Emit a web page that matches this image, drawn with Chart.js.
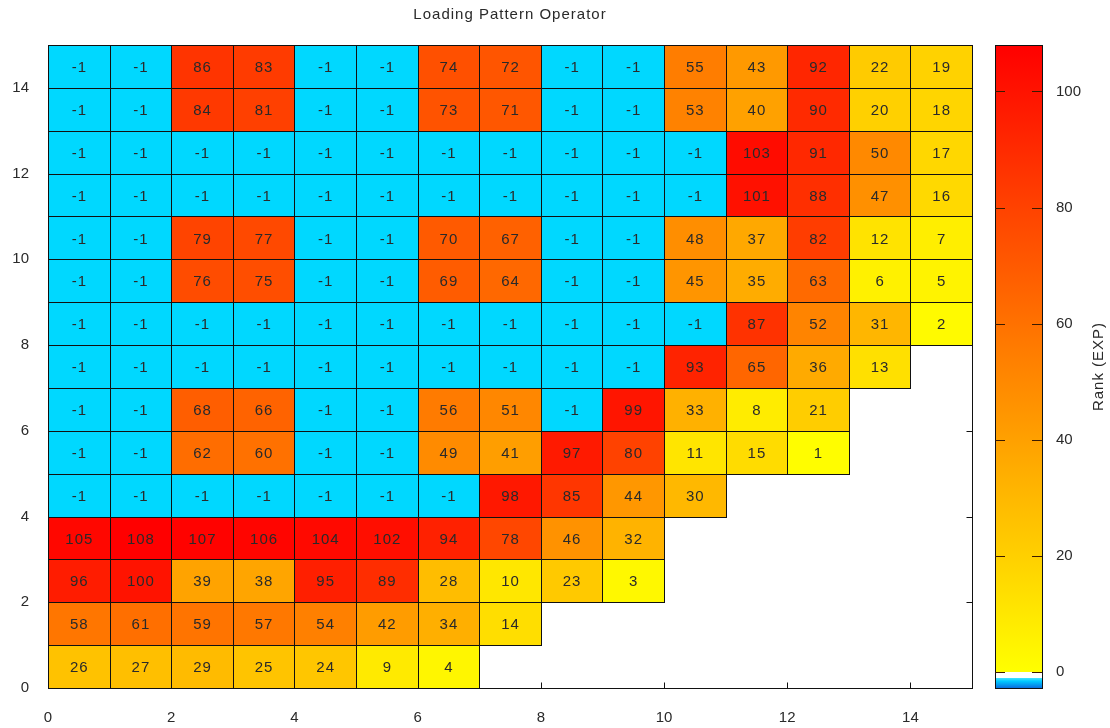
<!DOCTYPE html>
<html>
<head>
<meta charset="utf-8">
<title>Loading Pattern Operator</title>
<script src="https://cdn.jsdelivr.net/npm/chart.js@4/dist/chart.umd.min.js"></script>
<style>
  html, body { margin: 0; padding: 0; background: #ffffff; }
  #wrap { width: 1110px; height: 728px; position: relative; }
</style>
</head>
<body>
<div id="wrap"><canvas id="chart" width="1110" height="728"></canvas></div>
<script>
// ---- text ----
const chartTitle = 'Loading Pattern Operator';
const colorbarTitle = 'Rank (EXP)';

// ---- axis ticks ----
const xTicks = [0, 2, 4, 6, 8, 10, 12, 14];
const yTicks = [0, 2, 4, 6, 8, 10, 12, 14];
const cbTicks = [0, 20, 40, 60, 80, 100];
const cbMin = -2.75;
const cbMax = 108;

// ---- ranks per row, y = 0 (bottom) to y = 14 (top); columns start at x = 0 ----
const row0  = [26, 27, 29, 25, 24, 9, 4];
const row1  = [58, 61, 59, 57, 54, 42, 34, 14];
const row2  = [96, 100, 39, 38, 95, 89, 28, 10, 23, 3];
const row3  = [105, 108, 107, 106, 104, 102, 94, 78, 46, 32];
const row4  = [-1, -1, -1, -1, -1, -1, -1, 98, 85, 44, 30];
const row5  = [-1, -1, 62, 60, -1, -1, 49, 41, 97, 80, 11, 15, 1];
const row6  = [-1, -1, 68, 66, -1, -1, 56, 51, -1, 99, 33, 8, 21];
const row7  = [-1, -1, -1, -1, -1, -1, -1, -1, -1, -1, 93, 65, 36, 13];
const row8  = [-1, -1, -1, -1, -1, -1, -1, -1, -1, -1, -1, 87, 52, 31, 2];
const row9  = [-1, -1, 76, 75, -1, -1, 69, 64, -1, -1, 45, 35, 63, 6, 5];
const row10 = [-1, -1, 79, 77, -1, -1, 70, 67, -1, -1, 48, 37, 82, 12, 7];
const row11 = [-1, -1, -1, -1, -1, -1, -1, -1, -1, -1, -1, 101, 88, 47, 16];
const row12 = [-1, -1, -1, -1, -1, -1, -1, -1, -1, -1, -1, 103, 91, 50, 17];
const row13 = [-1, -1, 84, 81, -1, -1, 73, 71, -1, -1, 53, 40, 90, 20, 18];
const row14 = [-1, -1, 86, 83, -1, -1, 74, 72, -1, -1, 55, 43, 92, 22, 19];

const rows = [row0, row1, row2, row3, row4, row5, row6, row7,
              row8, row9, row10, row11, row12, row13, row14];

// one point per cell, placed at the cell centre
const cells = [];
rows.forEach((row, r) => row.forEach((v, c) => cells.push({ x: c + 0.5, y: r + 0.5, v })));

// ---- styling ----
const FONT = { family: '"Liberation Sans", Arial, sans-serif', size: 15 };
const TEXT_COLOR = '#2a2a2a';
const LINE_COLOR = '#111111';
const EMPTY_COLOR = '#00d8ff';

function rankColor(v) {
  if (v < 0) return EMPTY_COLOR;
  const g = Math.round(255 * (1 - v / cbMax));
  return `rgb(255,${Math.max(0, Math.min(255, g))},0)`;
}

// keep the axes from reserving extra room for half-label overhang
function fixBox(w, h) {
  return s => {
    if (w !== null) s.width = w;
    if (h !== null) s.height = h;
    s.paddingTop = 0; s.paddingBottom = 0; s.paddingLeft = 0; s.paddingRight = 0;
  };
}

const heatmapPlugin = {
  id: 'heatmap',
  beforeDatasetsDraw(chart) {
    const { ctx } = chart;
    const xs = chart.scales.x, ys = chart.scales.y;
    const pts = chart.data.datasets[0].data;
    const box = p => {
      const x0 = Math.round(xs.getPixelForValue(p.x - 0.5));
      const x1 = Math.round(xs.getPixelForValue(p.x + 0.5));
      const y0 = Math.round(ys.getPixelForValue(p.y + 0.5));
      const y1 = Math.round(ys.getPixelForValue(p.y - 0.5));
      return { x0, y0, w: x1 - x0, h: y1 - y0 };
    };
    ctx.save();
    pts.forEach(p => {
      const b = box(p);
      ctx.fillStyle = rankColor(p.v);
      ctx.fillRect(b.x0, b.y0, b.w, b.h);
    });
    ctx.strokeStyle = LINE_COLOR;
    ctx.lineWidth = 1;
    pts.forEach(p => {
      const b = box(p);
      ctx.strokeRect(b.x0 + 0.5, b.y0 + 0.5, b.w, b.h);
    });
    ctx.font = `${FONT.size}px ${FONT.family}`;
    ctx.textAlign = 'center';
    ctx.textBaseline = 'middle';
    ctx.letterSpacing = '1px';
    ctx.fillStyle = TEXT_COLOR;
    pts.forEach(p => {
      ctx.fillText(String(p.v), xs.getPixelForValue(p.x) + 0.5, ys.getPixelForValue(p.y) + 1.5);
    });
    ctx.restore();
  },
  afterDraw(chart) {
    const { ctx, chartArea: a } = chart;
    const xs = chart.scales.x, ys = chart.scales.y, cb = chart.scales.cb;
    ctx.save();
    ctx.strokeStyle = LINE_COLOR;
    ctx.lineWidth = 1;

    // plot border
    const L = Math.round(a.left) + 0.5, R = Math.round(a.right) + 0.5;
    const T = Math.round(a.top) + 0.5, B = Math.round(a.bottom) + 0.5;
    ctx.strokeRect(L, T, R - L, B - T);

    // inward tick marks on all four sides
    const tl = 6;
    ctx.beginPath();
    xTicks.forEach(v => {
      const px = Math.round(xs.getPixelForValue(v)) + 0.5;
      ctx.moveTo(px, B); ctx.lineTo(px, B - tl);
      ctx.moveTo(px, T); ctx.lineTo(px, T + tl);
    });
    yTicks.forEach(v => {
      const py = Math.round(ys.getPixelForValue(v)) + 0.5;
      ctx.moveTo(L, py); ctx.lineTo(L + tl, py);
      ctx.moveTo(R, py); ctx.lineTo(R - tl, py);
    });
    ctx.stroke();

    // colour bar
    const cbL = Math.round(a.right) + 23, cbW = 47;
    const cTop = Math.round(cb.getPixelForValue(cbMax));
    const cBot = Math.round(cb.getPixelForValue(cbMin));
    const grad = ctx.createLinearGradient(0, cBot, 0, cTop);
    const stop = v => (cb.getPixelForValue(v) - cBot) / (cTop - cBot);
    grad.addColorStop(0, '#0a6fe0');
    grad.addColorStop(stop(-1.6), '#00c8ff');
    grad.addColorStop(stop(-1.05), '#40e4ff');
    grad.addColorStop(stop(-1), '#ffffff');
    grad.addColorStop(stop(-0.02), '#ffffff');
    grad.addColorStop(stop(0), '#ffff00');
    grad.addColorStop(1, '#ff0000');
    ctx.fillStyle = grad;
    ctx.fillRect(cbL, cTop, cbW, cBot - cTop);
    ctx.strokeRect(cbL + 0.5, cTop + 0.5, cbW, cBot - cTop);
    ctx.beginPath();
    cbTicks.forEach(v => {
      const py = Math.round(cb.getPixelForValue(v)) + 0.5;
      ctx.moveTo(cbL, py); ctx.lineTo(cbL + 10, py);
      ctx.moveTo(cbL + cbW, py); ctx.lineTo(cbL + cbW - 10, py);
    });
    ctx.strokeStyle = '#3a1a00';
    ctx.stroke();

    // titles
    ctx.fillStyle = TEXT_COLOR;
    ctx.font = `${FONT.size}px ${FONT.family}`;
    ctx.letterSpacing = '1px';
    ctx.textAlign = 'center';
    ctx.textBaseline = 'middle';
    ctx.fillText(chartTitle, (a.left + a.right) / 2, 15);
    ctx.translate(1099, (cTop + cBot) / 2);
    ctx.rotate(-Math.PI / 2);
    ctx.fillText(colorbarTitle, 0, 0);
    ctx.restore();
  }
};

const tickFont = { family: FONT.family, size: FONT.size };

new Chart(document.getElementById('chart'), {
  type: 'scatter',
  data: {
    datasets: [{ data: cells, pointRadius: 0, pointHoverRadius: 0 }]
  },
  options: {
    responsive: false,
    animation: false,
    events: [],
    layout: { padding: { top: 45, left: 0, right: 0, bottom: 0 } },
    plugins: { legend: { display: false }, tooltip: { enabled: false }, title: { display: false } },
    scales: {
      x: {
        type: 'linear', position: 'bottom', min: 0, max: 15,
        grid: { display: false, drawTicks: false }, border: { display: false },
        ticks: { font: tickFont, color: TEXT_COLOR, padding: 21, maxRotation: 0 },
        afterBuildTicks: s => { s.ticks = xTicks.map(v => ({ value: v })); },
        afterFit: fixBox(null, 40)
      },
      y: {
        type: 'linear', position: 'left', min: 0, max: 15,
        grid: { display: false, drawTicks: false }, border: { display: false },
        ticks: { font: tickFont, color: TEXT_COLOR, padding: 19 },
        afterBuildTicks: s => { s.ticks = yTicks.map(v => ({ value: v })); },
        afterFit: fixBox(48, null)
      },
      cb: {
        type: 'linear', axis: 'y', position: 'right', min: cbMin, max: cbMax,
        grid: { display: false, drawTicks: false }, border: { display: false },
        ticks: { font: tickFont, color: TEXT_COLOR, padding: 84 },
        afterBuildTicks: s => { s.ticks = cbTicks.map(v => ({ value: v })); },
        afterFit: fixBox(138, null)
      }
    }
  },
  plugins: [heatmapPlugin]
});
</script>
</body>
</html>
